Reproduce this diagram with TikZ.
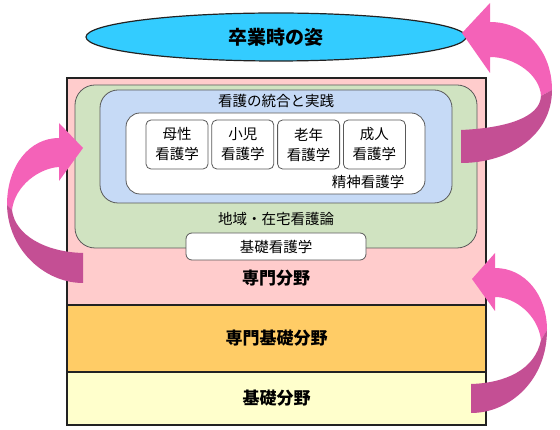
\documentclass[tikz,border=0pt]{standalone}
\usepackage{fontspec}
\setmainfont{Noto Sans CJK JP}
\usetikzlibrary{shapes.geometric,positioning}
\definecolor{goalcyan}{HTML}{33CCFF}
\definecolor{senmonpink}{HTML}{FFCCCC}
\definecolor{kisoorange}{HTML}{FFCC66}
\definecolor{kisoyellow}{HTML}{FFFFCC}
\definecolor{chiikigreen}{HTML}{D0E3C1}
\definecolor{tougoublue}{HTML}{C6DAF6}
\definecolor{arrowlight}{HTML}{F462B8}
\definecolor{arrowdark}{HTML}{C44F94}
\definecolor{edge}{HTML}{222222}
\newcommand{\smalltxt}{\fontsize{14.5}{20}\selectfont}
\newcommand{\bigtxt}{\fontsize{17}{20}\selectfont\bfseries}

\begin{document}
\begin{tikzpicture}[x=1pt,y=-1pt,
  field/.style={draw=edge,line width=1.6pt,inner sep=0pt,minimum width=419pt},
  layer/.style={draw=black!65,line width=0.8pt,inner sep=0pt},
  course/.style={layer,fill=white,rounded corners=5pt,minimum width=62pt,minimum height=49pt,align=center,font=\smalltxt},
  lbl/.style={inner sep=0pt,font=\smalltxt},
  biglbl/.style={inner sep=0pt,font=\bigtxt}]

  \useasboundingbox (0,0) rectangle (560,430);

  % fields
  \node[field,fill=senmonpink,minimum height=227pt] (senmon) at (276.5,191.5) {};
  \node[field,fill=kisoorange,minimum height=67pt] (senmonkiso) at (276.5,338.5) {};
  \node[field,fill=kisoyellow,minimum height=53pt] (kiso) at (276.5,398.5) {};

  \node[layer,fill=chiikigreen,rounded corners=20pt,minimum width=402pt,minimum height=163pt] (chiiki) at (276,166.5) {};
  \node[layer,fill=tougoublue,rounded corners=18pt,minimum width=352pt,minimum height=113pt] (tougou) at (276,146.5) {};
  \node[layer,fill=white,rounded corners=14pt,minimum width=299pt,minimum height=81pt] (kakuron) at (275.5,153.5) {};

  \node[course] (bosei) at (177,144.5) {母性\\看護学};
  \node[course] (shouni) [right=3pt of bosei] {小児\\看護学};
  \node[course] (rounen) [right=3pt of shouni] {老年\\看護学};
  \node[course] (seijin) [right=3pt of rounen] {成人\\看護学};
  \node[layer,fill=white,rounded corners=6pt,minimum width=180pt,minimum height=27pt,font=\smalltxt] (kisokango) at (276,246.5) {基礎看護学};

  \node[lbl] (tougoulbl) at (276,101) {看護の統合と実践};
  \node[lbl] (seishin) at (368,182) {精神看護学};
  \node[lbl] (chiikilbl) at (276,219) {地域・在宅看護論};
  \node[biglbl] (senmonlbl) at (276,278) {専門分野};
  \node[biglbl] at (senmonkiso) {専門基礎分野};
  \node[biglbl] at (kiso) {基礎分野};

  \node[ellipse,draw=edge,line width=1.2pt,fill=goalcyan,minimum width=380pt,minimum height=48pt,font=\fontsize{19}{20}\selectfont\bfseries] (goal) at (276,37) {卒業時の姿};

  % arrows
  \fill[arrowlight] (552,90) .. controls (552,50) and (525,22) .. (490,22) -- (490,3) -- (462,33)
    -- (490,73) -- (490,57) .. controls (515,57) and (540,75) .. (541,96) -- cycle;
  \fill[arrowdark] (552,90) .. controls (552,135) and (510,163) .. (461,163) -- (461,130)
    .. controls (505,128) and (540,118) .. (541,96) -- cycle;

  \fill[arrowlight] (7,205) .. controls (7,165) and (30,138) .. (59,138) -- (59,123) -- (83,148)
    -- (59,181) -- (59,167) .. controls (40,168) and (15,185) .. (12,210) -- cycle;
  \fill[arrowdark] (7,205) .. controls (8,250) and (45,283) .. (83,283) -- (83,253)
    .. controls (45,252) and (15,235) .. (12,210) -- cycle;

  \fill[arrowlight] (547,330) .. controls (547,295) and (525,268) .. (495,268) -- (495,253) -- (472,279)
    -- (495,311) -- (495,297) .. controls (515,297) and (538,315) .. (541,340) -- cycle;
  \fill[arrowdark] (547,330) .. controls (547,380) and (510,413) .. (471,413) -- (471,384)
    .. controls (505,383) and (535,370) .. (541,340) -- cycle;

\end{tikzpicture}
\end{document}
